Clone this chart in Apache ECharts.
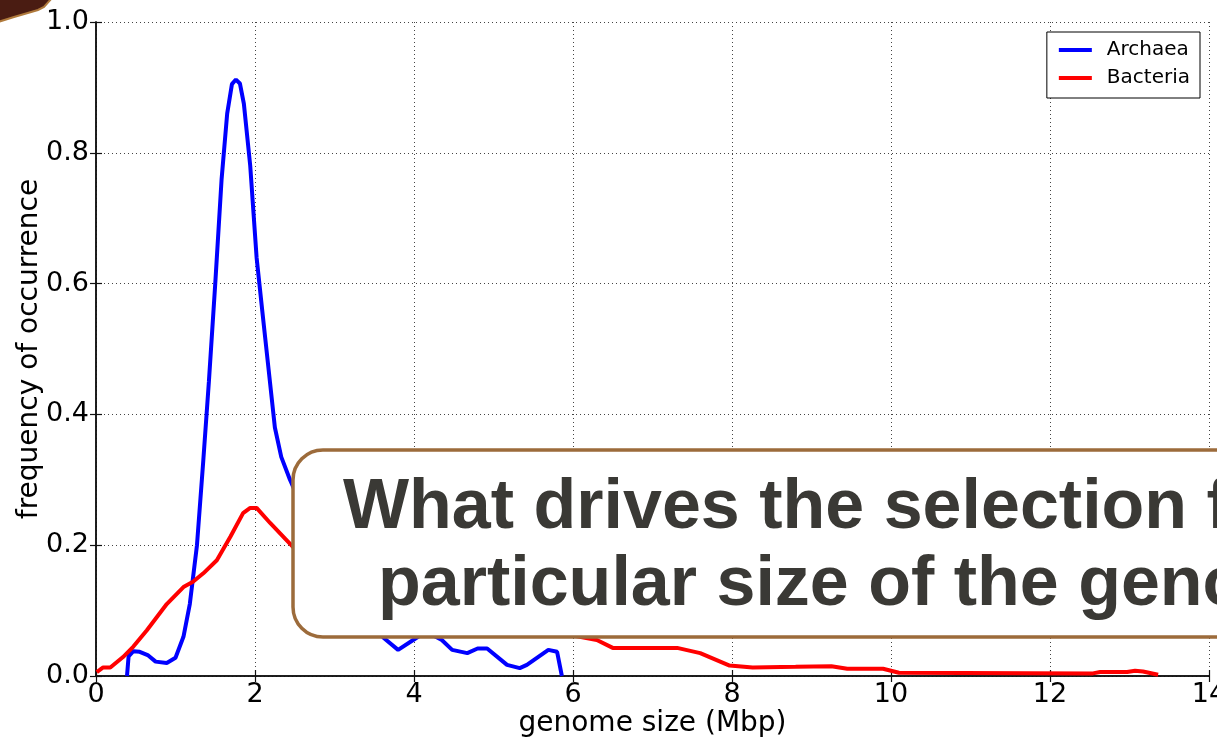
<!DOCTYPE html>
<html>
<head>
<meta charset="utf-8">
<title>Genome size distribution</title>
<script src="https://cdn.jsdelivr.net/npm/echarts@6/dist/echarts.min.js"></script>
<style>
  html, body { margin: 0; padding: 0; background: #ffffff; }
  #chart { width: 1217px; height: 739px; }
</style>
</head>
<body>
<div id="chart"></div>
<script>
// Genome size (Mbp) and frequency of occurrence for each domain
const archaeaSize = [0.39, 0.41, 0.47, 0.55, 0.65, 0.75, 0.89, 1.0, 1.1, 1.18, 1.27, 1.35, 1.42, 1.5, 1.58, 1.65, 1.71, 1.76, 1.81, 1.86, 1.94, 2.02, 2.09, 2.17, 2.25, 2.33, 2.44, 2.55, 2.7, 2.9, 3.1, 3.3, 3.5, 3.62, 3.8, 3.99, 4.15, 4.35, 4.48, 4.67, 4.8, 4.92, 5.17, 5.33, 5.42, 5.69, 5.8, 5.86];
const archaeaFreq = [0.0, 0.03, 0.038, 0.037, 0.032, 0.022, 0.02, 0.028, 0.06, 0.11, 0.2, 0.33, 0.45, 0.6, 0.76, 0.86, 0.905, 0.912, 0.906, 0.875, 0.78, 0.64, 0.56, 0.47, 0.38, 0.335, 0.3, 0.27, 0.23, 0.19, 0.15, 0.11, 0.075, 0.058, 0.04, 0.055, 0.068, 0.055, 0.04, 0.035, 0.042, 0.042, 0.017, 0.012, 0.017, 0.04, 0.037, 0.0];

const bacteriaSize = [0.01, 0.09, 0.18, 0.34, 0.47, 0.64, 0.89, 1.1, 1.22, 1.35, 1.52, 1.69, 1.85, 1.94, 2.02, 2.19, 2.48, 2.8, 3.2, 3.6, 4.0, 4.5, 5.0, 5.5, 6.0, 6.3, 6.5, 7.31, 7.6, 7.97, 8.26, 8.8, 9.25, 9.45, 9.9, 10.1, 12.54, 12.63, 12.97, 13.07, 13.17, 13.36];
const bacteriaFreq = [0.006, 0.013, 0.013, 0.029, 0.045, 0.07, 0.11, 0.136, 0.144, 0.157, 0.177, 0.213, 0.249, 0.257, 0.257, 0.234, 0.197, 0.165, 0.135, 0.115, 0.1, 0.088, 0.078, 0.07, 0.062, 0.055, 0.043, 0.043, 0.035, 0.016, 0.013, 0.014, 0.015, 0.011, 0.011, 0.005, 0.004, 0.006, 0.006, 0.008, 0.007, 0.002];

const seriesNames = ['Archaea', 'Bacteria'];
const xTicks = [0, 2, 4, 6, 8, 10, 12, 14];
const yTicks = ['0.0', '0.2', '0.4', '0.6', '0.8', '1.0'];
const xTitle = 'genome size (Mbp)';
const yTitle = 'frequency of occurrence';
const calloutLines = ['What drives the selection for a', 'particular size of the genome?'];

const zip = (xs, ys) => xs.map((x, i) => [x, ys[i]]);

const FONT = 'DejaVu Sans';
const frameLine = { show: true, lineStyle: { color: '#111', width: 1.5 } };
const innerTick = { show: true, inside: true, length: 6, lineStyle: { color: '#111', width: 1.2 } };
const dotted = { show: true, lineStyle: { color: '#444', width: 1, type: [1, 3] } };

const xMin = xTicks[0], xMax = xTicks[xTicks.length - 1], xStep = xTicks[1] - xTicks[0];
const yMin = parseFloat(yTicks[0]), yMax = parseFloat(yTicks[yTicks.length - 1]);
const yStep = parseFloat(yTicks[1]) - yMin;

const chart = echarts.init(document.getElementById('chart'), null, { renderer: 'canvas' });

chart.setOption({
  backgroundColor: '#ffffff',
  animation: false,
  textStyle: { fontFamily: FONT },
  grid: { left: 96, right: 8, top: 22, bottom: 63, containLabel: false, outerBoundsMode: 'none' },
  legend: {
    data: seriesNames,
    orient: 'vertical',
    right: 17,
    top: 32,
    icon: 'rect',
    itemWidth: 33,
    itemHeight: 4,
    itemGap: 8,
    padding: [8, 10, 10, 12],
    borderColor: '#000',
    borderWidth: 1,
    backgroundColor: '#fff',
    textStyle: { fontFamily: FONT, fontSize: 20, color: '#000', padding: [0, 0, 0, 10] }
  },
  xAxis: [
    {
      type: 'value', min: xMin, max: xMax, interval: xStep,
      axisLine: frameLine, axisTick: innerTick, splitLine: dotted,
      axisLabel: { fontFamily: FONT, fontSize: 27, color: '#000', margin: 5 },
      name: xTitle, nameLocation: 'middle', nameGap: 34, nameMoveOverlap: false,
      nameTextStyle: { fontFamily: FONT, fontSize: 28, color: '#000' }
    },
    {
      type: 'value', position: 'top', min: xMin, max: xMax, interval: xStep,
      axisLine: frameLine, axisTick: innerTick, splitLine: { show: false },
      axisLabel: { show: false }
    }
  ],
  yAxis: [
    {
      type: 'value', min: yMin, max: yMax, interval: yStep,
      axisLine: frameLine, axisTick: innerTick, splitLine: dotted,
      axisLabel: {
        fontFamily: FONT, fontSize: 27, color: '#000', margin: 7,
        formatter: (v) => yTicks[Math.round((v - yMin) / yStep)]
      },
      name: yTitle, nameLocation: 'middle', nameGap: 52, nameMoveOverlap: false,
      nameTextStyle: { fontFamily: FONT, fontSize: 28, color: '#000' }
    },
    {
      type: 'value', position: 'right', min: yMin, max: yMax, interval: yStep,
      axisLine: frameLine, axisTick: innerTick, splitLine: { show: false },
      axisLabel: { show: false }
    }
  ],
  series: [
    {
      name: seriesNames[0], type: 'line', xAxisIndex: 0, yAxisIndex: 0,
      data: zip(archaeaSize, archaeaFreq),
      showSymbol: false, smooth: false,
      lineStyle: { color: '#0000ff', width: 4 },
      itemStyle: { color: '#0000ff' }
    },
    {
      name: seriesNames[1], type: 'line', xAxisIndex: 0, yAxisIndex: 0,
      data: zip(bacteriaSize, bacteriaFreq),
      showSymbol: false, smooth: false,
      lineStyle: { color: '#ff0000', width: 4 },
      itemStyle: { color: '#ff0000' }
    }
  ],
  graphic: [
    // slide corner ornament
    {
      type: 'polygon', z: 200,
      shape: { points: [[-2, -2], [-2, 22], [14, 17], [38, 10], [44, 7], [52, -2]] },
      style: { fill: '#4a1c12', stroke: '#b07a3c', lineWidth: 2 }
    },
    // callout box laid over the plot
    {
      type: 'rect', z: 200,
      shape: { x: 293, y: 450, width: 1000, height: 187, r: 30 },
      style: { fill: '#ffffff', stroke: '#9c6b3b', lineWidth: 3.5 }
    },
    {
      type: 'text', z: 201, x: 343, y: 509,
      style: {
        text: calloutLines[0], fill: '#3a3935',
        font: 'bold 70px "Liberation Sans", Arial, sans-serif',
        align: 'left', verticalAlign: 'middle'
      }
    },
    {
      type: 'text', z: 201, x: 378, y: 586,
      style: {
        text: calloutLines[1], fill: '#3a3935',
        font: 'bold 70px "Liberation Sans", Arial, sans-serif',
        align: 'left', verticalAlign: 'middle'
      }
    }
  ]
});
</script>
</body>
</html>
